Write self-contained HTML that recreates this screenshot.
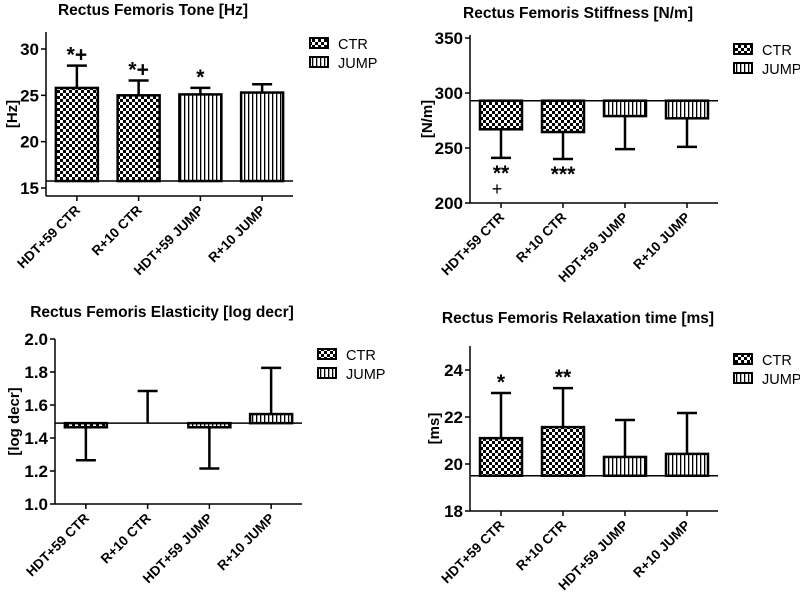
<!DOCTYPE html>
<html><head><meta charset="utf-8"><style>
html,body{margin:0;padding:0;background:#fff;}
svg{display:block;font-family:"Liberation Sans",Arial,sans-serif;}
</style></head><body>
<svg id="chart" width="800" height="595" viewBox="0 0 800 595" xmlns="http://www.w3.org/2000/svg">
<defs>
<pattern id="check" width="6" height="6" patternUnits="userSpaceOnUse">
<rect width="6" height="6" fill="#000"/><rect width="3" height="3" fill="#fff"/><rect x="3" y="3" width="3" height="3" fill="#fff"/>
</pattern>
<pattern id="stripe" width="4" height="4" patternUnits="userSpaceOnUse">
<rect width="4" height="4" fill="#fff"/><rect width="1.3" height="4" fill="#000"/>
</pattern>
</defs>
</svg>
<script>
const categories = ["HDT+59 CTR","R+10 CTR","HDT+59 JUMP","R+10 JUMP"];
const groups = ["CTR","CTR","JUMP","JUMP"];
const toneValues = [25.8, 25.0, 25.1, 25.3];
const toneErrors = [28.2, 26.6, 25.8, 26.2];
const toneTicks = [15, 20, 25, 30];
const toneMarks = ["*+","*+","*",""];
const stiffValues = [267, 264.5, 279, 277];
const stiffErrors = [241, 240, 249, 251];
const stiffTicks = [200, 250, 300, 350];
const stiffMarks = ["**","***","",""];
const elastValues = [1.465, 1.49, 1.465, 1.545];
const elastErrors = [1.265, 1.685, 1.215, 1.825];
const elastTicks = [1.0, 1.2, 1.4, 1.6, 1.8, 2.0];
const relaxValues = [21.1, 21.57, 20.3, 20.43];
const relaxErrors = [23.02, 23.23, 21.87, 22.17];
const relaxTicks = [18, 20, 22, 24];
const relaxMarks = ["*","**","",""];

const svg = document.getElementById('chart');
const NS = 'http://www.w3.org/2000/svg';
function mk(tag, attrs, parent, text){
  const e = document.createElementNS(NS, tag);
  for (const k in attrs) e.setAttribute(k, attrs[k]);
  if (text !== undefined) e.textContent = text;
  (parent || svg).appendChild(e);
  return e;
}

function panel(p){
  const g = mk('g', {});
  
  
  const yv0 = p.yv0 !== undefined ? p.yv0 : p.y0;
  const y = v => yv0 - (v - p.vmin) / (p.vmax - p.vmin) * (yv0 - p.y1);
  const step = (p.xEnd - p.xAxis) / categories.length;
  const cx = i => p.xAxis + step * (i + 0.5);
  const t = mk('text', {x: p.titleX, y: p.titleY, 'text-anchor': 'middle', 'font-size': 15.5, 'font-weight': 'bold'}, g, p.title);
  
  
  const yt = mk('text', {transform: `translate(${p.ytx},${(p.y0+p.axTop)/2}) rotate(-90)`, 'text-anchor': 'middle', 'font-size': 15, 'font-weight': 'bold'}, g, p.yTitle);
  
  
  p.values.forEach((v, i) => {
    const top = Math.min(y(v), y(p.base)), bot = Math.max(y(v), y(p.base));
    const bw = 42;
    const err = mk('line', {x1: cx(i), x2: cx(i), y1: y(v), y2: y(p.errors[i]), stroke: '#000', 'stroke-width': 2.5}, g);
    
    
    const cap = mk('line', {x1: cx(i) - 10, x2: cx(i) + 10, y1: y(p.errors[i]), y2: y(p.errors[i]), stroke: '#000', 'stroke-width': 2.5}, g);
    
    
    if (bot - top > 0.5) {
      const r = mk('rect', {x: cx(i) - bw/2, y: top, width: bw, height: bot - top, fill: groups[i] === 'CTR' ? 'url(#check)' : 'url(#stripe)', stroke: '#000', 'stroke-width': 2.5}, g);
      
      
    }
    if (p.marks && p.marks[i]) {
      const below = p.errors[i] < v;
      const m = mk('text', {x: cx(i), y: below ? y(p.errors[i]) + 22 : y(p.errors[i]) - 4, 'text-anchor': 'middle', 'font-size': 21, 'font-weight': 'bold'}, g, p.marks[i]);
      
      
    }
    if (p.extra && p.extra[i]) {
      const m2 = mk('text', {x: cx(i) - 4, y: y(p.errors[i]) + 37, 'text-anchor': 'middle', 'font-size': 18}, g, p.extra[i]);
      
      
    }
    const tk = mk('line', {x1: cx(i), x2: cx(i), y1: p.y0, y2: p.y0 + 5, stroke: '#000', 'stroke-width': 1.5}, g);
    
    
    const lb = mk('text', {transform: `translate(${cx(i)+4},${p.y0 + 15}) rotate(-45)`, 'text-anchor': 'end', 'font-size': 13.5, 'font-weight': 'bold'}, g, categories[i]);
    
    
  });
  const bl = mk('line', {x1: p.xAxis, x2: p.xEnd, y1: y(p.base), y2: y(p.base), stroke: '#000', 'stroke-width': 1.5}, g);
  
  
  const ya = mk('line', {x1: p.xAxis, x2: p.xAxis, y1: p.axTop, y2: p.y0, stroke: '#000', 'stroke-width': 1.5}, g);
  
  
  const xa = mk('line', {x1: p.xAxis, x2: p.xEnd, y1: p.y0, y2: p.y0, stroke: '#000', 'stroke-width': 1.5}, g);
  
  
  p.ticks.forEach(v => {
    const tk = mk('line', {x1: p.xAxis - 5, x2: p.xAxis, y1: y(v), y2: y(v), stroke: '#000', 'stroke-width': 1.5}, g);
    
    
    const tl = mk('text', {x: p.xAxis - 7, y: y(v) + 6, 'text-anchor': 'end', 'font-size': 17, 'font-weight': 'bold'}, g, p.fmt(v));
    
    
  });
  [['CTR', 'url(#check)'], ['JUMP', 'url(#stripe)']].forEach((L, k) => {
    const ly = p.legY + k * 19;
    const lr = mk('rect', {x: p.legX, y: ly, width: 18, height: 10, fill: L[1], stroke: '#000', 'stroke-width': 2}, g);
    
    
    const lt = mk('text', {x: p.legX + 28, y: ly + 11, 'font-size': 14.5}, g, L[0]);
    
    
  });
}

panel({name: 'tone-panel', title: 'Rectus Femoris Tone [Hz]', titleX: 153, titleY: 15, yTitle: '[Hz]', ytx: 17,
  xAxis: 46, xEnd: 293, y0: 196, yv0: 188, axTop: 32, vmin: 15, vmax: 30, y1: 49, base: 15.75,
  values: toneValues, errors: toneErrors, ticks: toneTicks, marks: toneMarks, fmt: v => String(v), legX: 310, legY: 38});
panel({name: 'stiffness-panel', title: 'Rectus Femoris Stiffness [N/m]', titleX: 578, titleY: 18, yTitle: '[N/m]', ytx: 432,
  xAxis: 470, xEnd: 718, y0: 203, axTop: 35, vmin: 200, vmax: 350, y1: 38, base: 293,
  values: stiffValues, errors: stiffErrors, ticks: stiffTicks, marks: stiffMarks, extra: ["+","","",""], fmt: v => String(v), legX: 734, legY: 44});
panel({name: 'elasticity-panel', title: 'Rectus Femoris Elasticity [log decr]', titleX: 162, titleY: 317, yTitle: '[log decr]', ytx: 19,
  xAxis: 55, xEnd: 302, y0: 504, axTop: 339, vmin: 1.0, vmax: 2.0, y1: 339, base: 1.49,
  values: elastValues, errors: elastErrors, ticks: elastTicks, marks: null, fmt: v => v.toFixed(1), legX: 318, legY: 349});
panel({name: 'relaxation-panel', title: 'Rectus Femoris Relaxation time [ms]', titleX: 578, titleY: 323, yTitle: '[ms]', ytx: 439,
  xAxis: 470, xEnd: 718, y0: 511, axTop: 346, vmin: 18, vmax: 24, y1: 370, base: 19.5,
  values: relaxValues, errors: relaxErrors, ticks: relaxTicks, marks: relaxMarks, fmt: v => String(v), legX: 734, legY: 354});
</script>
</body></html>
